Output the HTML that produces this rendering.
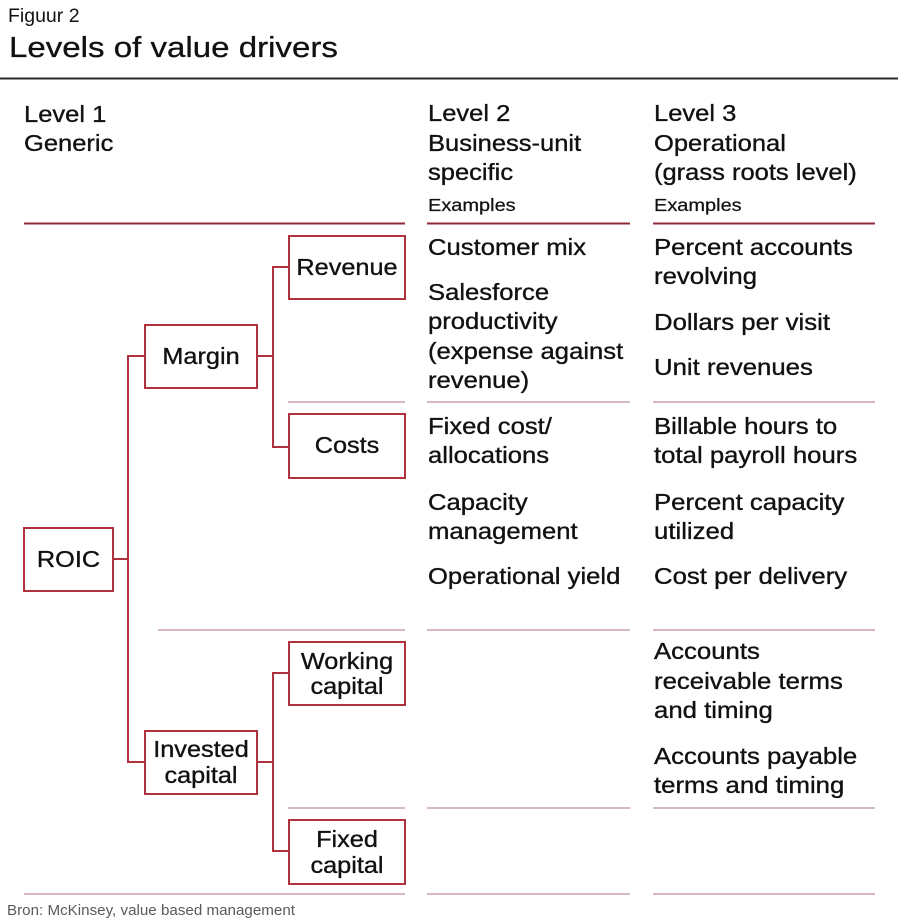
<!DOCTYPE html>
<html><head><meta charset="utf-8"><style>
html,body{margin:0;padding:0;background:#fff;}
svg{display:block;}
text{font-family:"Liberation Sans",Arial,sans-serif;fill:#111;}
.b{font-size:23px;stroke:#111;stroke-width:0.35px;}
.s{font-size:18px;stroke:#111;stroke-width:0.25px;}
</style></head><body>
<svg width="900" height="923" viewBox="0 0 900 923" xmlns="http://www.w3.org/2000/svg">
<rect width="900" height="923" fill="#fff"/>
<!-- title -->
<text x="8" y="22" style="font-size:19.5px">Figuur 2</text>
<text transform="translate(9,57) scale(1.16,1)" style="font-size:28.5px;stroke:#111;stroke-width:0.3px">Levels of value drivers</text>
<line x1="0" y1="78.5" x2="898" y2="78.5" stroke="#2a2a2a" stroke-width="2"/>

<!-- headers -->
<g class="b">
<text transform="translate(24,122) scale(1.11,1)">Level 1</text>
<text transform="translate(24,151) scale(1.11,1)">Generic</text>
<text transform="translate(428,121) scale(1.11,1)">Level 2</text>
<text transform="translate(428,151) scale(1.11,1)">Business-unit</text>
<text transform="translate(428,180) scale(1.11,1)">specific</text>
<text transform="translate(654,121) scale(1.11,1)">Level 3</text>
<text transform="translate(654,151) scale(1.11,1)">Operational</text>
<text transform="translate(654,180) scale(1.11,1)">(grass roots level)</text>
</g>
<g class="s">
<text transform="translate(428,211) scale(1.11,1)">Examples</text>
<text transform="translate(654,211) scale(1.11,1)">Examples</text>
</g>

<!-- header red lines -->
<g stroke="#8e2a36" stroke-width="2">
<line x1="24" y1="223.5" x2="405" y2="223.5"/>
<line x1="427" y1="223.5" x2="630" y2="223.5"/>
<line x1="653" y1="223.5" x2="875" y2="223.5"/>
</g>

<!-- separator lines -->
<g stroke="#c7a2aa" stroke-width="1.6">
<line x1="288" y1="402" x2="405" y2="402"/>
<line x1="427" y1="402" x2="630" y2="402"/>
<line x1="653" y1="402" x2="875" y2="402"/>
<line x1="158" y1="630" x2="405" y2="630"/>
<line x1="427" y1="630" x2="630" y2="630"/>
<line x1="653" y1="630" x2="875" y2="630"/>
<line x1="288" y1="808" x2="405" y2="808"/>
<line x1="427" y1="808" x2="630" y2="808"/>
<line x1="653" y1="808" x2="875" y2="808"/>
<line x1="24" y1="894" x2="405" y2="894"/>
<line x1="427" y1="894" x2="630" y2="894"/>
<line x1="653" y1="894" x2="875" y2="894"/>
</g>

<!-- connectors -->
<g stroke="#b0323f" stroke-width="2" fill="none">
<polyline points="113,559 128,559"/>
<polyline points="144,356 128,356 128,762 144,762"/>
<polyline points="257,356 273,356"/>
<polyline points="289,267 273,267 273,447 289,447"/>
<polyline points="257,762 273,762"/>
<polyline points="289,673 273,673 273,851 289,851"/>
</g>

<!-- boxes -->
<g stroke="#b0323f" stroke-width="2" fill="#fff">
<rect x="24" y="528" width="89" height="63"/>
<rect x="145" y="325" width="112" height="63"/>
<rect x="145" y="731" width="112" height="63"/>
<rect x="289" y="236" width="116" height="63"/>
<rect x="289" y="414" width="116" height="64"/>
<rect x="289" y="642" width="116" height="63"/>
<rect x="289" y="820" width="116" height="64"/>
</g>

<!-- box labels -->
<g class="b" text-anchor="middle">
<text transform="translate(68.5,567) scale(1.1,1)">ROIC</text>
<text transform="translate(201,364) scale(1.1,1)">Margin</text>
<text transform="translate(201,757) scale(1.1,1)">Invested</text>
<text transform="translate(201,783) scale(1.1,1)">capital</text>
<text transform="translate(347,275) scale(1.1,1)">Revenue</text>
<text transform="translate(347,453) scale(1.1,1)">Costs</text>
<text transform="translate(347,669) scale(1.1,1)">Working</text>
<text transform="translate(347,694) scale(1.1,1)">capital</text>
<text transform="translate(347,847) scale(1.1,1)">Fixed</text>
<text transform="translate(347,873) scale(1.1,1)">capital</text>
</g>

<!-- column 2 -->
<g class="b">
<text transform="translate(428,255) scale(1.115,1)">Customer mix</text>
<text transform="translate(428,300) scale(1.115,1)">Salesforce</text>
<text transform="translate(428,329) scale(1.115,1)">productivity</text>
<text transform="translate(428,359) scale(1.115,1)">(expense against</text>
<text transform="translate(428,388) scale(1.115,1)">revenue)</text>
<text transform="translate(428,434) scale(1.115,1)">Fixed cost/</text>
<text transform="translate(428,463) scale(1.115,1)">allocations</text>
<text transform="translate(428,510) scale(1.115,1)">Capacity</text>
<text transform="translate(428,539) scale(1.115,1)">management</text>
<text transform="translate(428,584) scale(1.115,1)">Operational yield</text>
</g>

<!-- column 3 -->
<g class="b">
<text transform="translate(654,255) scale(1.12,1)">Percent accounts</text>
<text transform="translate(654,284) scale(1.12,1)">revolving</text>
<text transform="translate(654,330) scale(1.12,1)">Dollars per visit</text>
<text transform="translate(654,375) scale(1.12,1)">Unit revenues</text>
<text transform="translate(654,434) scale(1.12,1)">Billable hours to</text>
<text transform="translate(654,463) scale(1.12,1)">total payroll hours</text>
<text transform="translate(654,510) scale(1.12,1)">Percent capacity</text>
<text transform="translate(654,539) scale(1.12,1)">utilized</text>
<text transform="translate(654,584) scale(1.12,1)">Cost per delivery</text>
<text transform="translate(654,659) scale(1.12,1)">Accounts</text>
<text transform="translate(654,689) scale(1.12,1)">receivable terms</text>
<text transform="translate(654,718) scale(1.12,1)">and timing</text>
<text transform="translate(654,764) scale(1.12,1)">Accounts payable</text>
<text transform="translate(654,793) scale(1.12,1)">terms and timing</text>
</g>

<!-- footer -->
<text x="7" y="915" style="font-size:15px;fill:#5a5a5a" textLength="288" lengthAdjust="spacingAndGlyphs">Bron: McKinsey, value based management</text>
</svg>
</body></html>
